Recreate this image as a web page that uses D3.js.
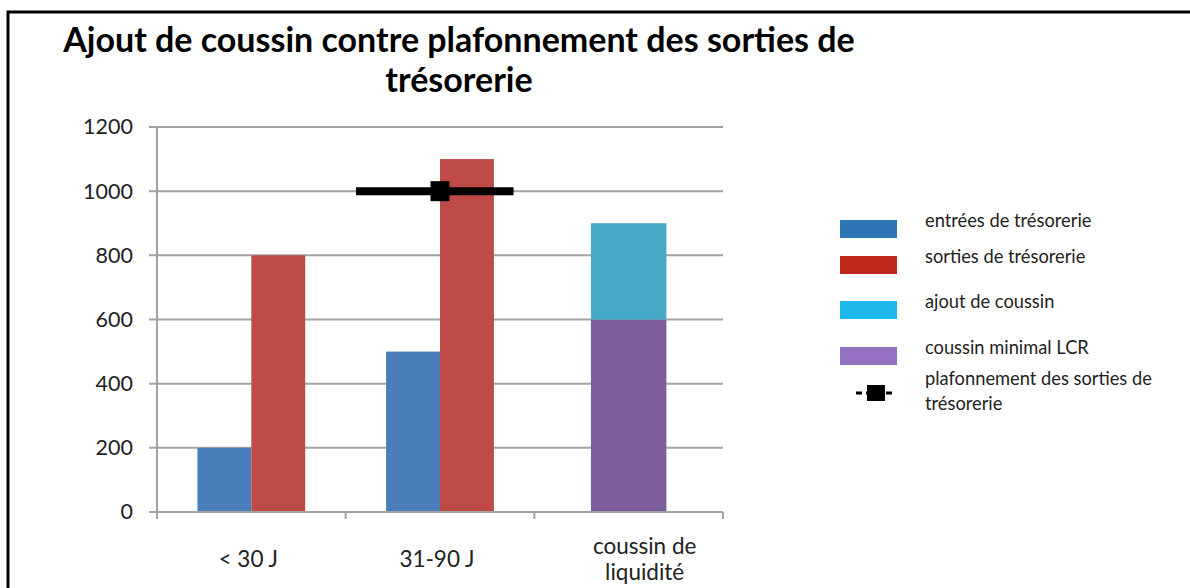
<!DOCTYPE html>
<html>
<head>
<meta charset="utf-8">
<script src="https://cdn.jsdelivr.net/npm/d3@7"></script>
<style>
  body { margin: 0; background: #fff; }
  svg { display: block; font-family: Lato, "Open Sans", sans-serif; }
</style>
</head>
<body>
<div id="chart"></div>
<script>
// chart values
const categories = ["< 30 J", "31-90 J", "coussin de liquidité"]
const entrees = [200, 500, null]
const sorties = [800, 1100, null]
const coussinMinimal = [null, null, 600]
const ajoutCoussin = [null, null, 300]
const plafondCategory = "31-90 J"
const plafondValue = 1000
const yTicks = [0, 200, 400, 600, 800, 1000, 1200]
const titleLines = ["Ajout de coussin contre plafonnement des sorties de", "trésorerie"]
const legendItems = [
  {label: ["entrées de trésorerie"], color: "#2e75b6"},
  {label: ["sorties de trésorerie"], color: "#c0291d"},
  {label: ["ajout de coussin"], color: "#1fb8ec"},
  {label: ["coussin minimal LCR"], color: "#9470c2"},
  {label: ["plafonnement des sorties de", "trésorerie"], marker: true}
]

const W = 1190, H = 588
const PLOT = {left: 157, right: 723, top: 127, bottom: 512}
const GRID = "#a3a3a3"

const svg = d3.select("#chart").append("svg")
  .attr("width", W)
  .attr("height", H)

// frame
svg.append("rect")
  .attr("x", 8).attr("y", 12)
  .attr("width", W + 20).attr("height", H + 20)
  .attr("fill", "none")
  .attr("stroke", "#000")
  .attr("stroke-width", 3)

// title
svg.append("g").selectAll("text")
  .data(titleLines)
  .enter().append("text")
    .attr("x", 459)
    .attr("y", (d, i) => 52 + i * 40)
    .attr("text-anchor", "middle")
    .attr("font-size", 34)
    .attr("font-weight", "bold")
    .attr("fill", "#000")
    .text(d => d)

const x = d3.scaleBand()
  .domain(categories)
  .range([PLOT.left, PLOT.right])

const xPair = d3.scaleBand()
  .domain(["entrees", "sorties"])
  .range([0, x.bandwidth()])
  .paddingOuter(0.75)

const stackW = x.bandwidth() * 0.4

const y = d3.scaleLinear()
  .domain([0, 1200])
  .range([PLOT.bottom, PLOT.top])

// gridlines
svg.append("g").selectAll("line")
  .data(yTicks)
  .enter().append("line")
    .attr("x1", PLOT.left - 8).attr("x2", PLOT.right)
    .attr("y1", d => y(d)).attr("y2", d => y(d))
    .attr("stroke", GRID)
    .attr("stroke-width", 2)

// y axis labels
const yAxis = svg.append("g")
  .attr("transform", "translate(" + PLOT.left + ",0)")
  .call(d3.axisLeft(y).tickValues(yTicks).tickSize(0).tickPadding(24).tickFormat(d => d))
yAxis.select(".domain").remove()
yAxis.selectAll("text")
  .attr("font-size", 21.5)
  .attr("font-family", "Lato, 'Open Sans', sans-serif")
  .attr("fill", "#222")

svg.append("line")
  .attr("x1", PLOT.left).attr("x2", PLOT.left)
  .attr("y1", PLOT.top).attr("y2", PLOT.bottom)
  .attr("stroke", GRID).attr("stroke-width", 2)

// x axis ticks
const xAxis = svg.append("g")
  .attr("transform", "translate(0," + PLOT.bottom + ")")
xAxis.selectAll("line.tick")
  .data(categories.concat([null]))
  .enter().append("line")
    .attr("class", "tick")
    .attr("x1", (d, i) => PLOT.left + i * x.step())
    .attr("x2", (d, i) => PLOT.left + i * x.step())
    .attr("y1", 0).attr("y2", 7)
    .attr("stroke", GRID).attr("stroke-width", 2)

// clustered bars
const pairs = []
categories.forEach((c, i) => {
  if (entrees[i] != null) pairs.push({cat: c, key: "entrees", value: entrees[i], color: "#4a7ebb"})
  if (sorties[i] != null) pairs.push({cat: c, key: "sorties", value: sorties[i], color: "#be4b48"})
})

svg.append("g").selectAll("rect")
  .data(pairs)
  .enter().append("rect")
    .attr("x", d => x(d.cat) + xPair(d.key))
    .attr("y", d => y(d.value))
    .attr("width", xPair.bandwidth())
    .attr("height", d => y(0) - y(d.value))
    .attr("fill", d => d.color)

// stacked bar
const stackRows = categories.map((c, i) => ({cat: c, minimal: coussinMinimal[i] || 0, ajout: ajoutCoussin[i] || 0}))
const stacked = d3.stack().keys(["minimal", "ajout"])(stackRows)
const stackColors = {minimal: "#7d5fa0", ajout: "#46a9c6"}

svg.append("g").selectAll("g")
  .data(stacked)
  .enter().append("g")
    .attr("fill", s => stackColors[s.key])
  .selectAll("rect")
  .data(s => s.filter(d => d[1] > d[0]))
  .enter().append("rect")
    .attr("x", d => x(d.data.cat) + (x.bandwidth() - stackW) / 2)
    .attr("y", d => y(d[1]))
    .attr("width", stackW)
    .attr("height", d => y(d[0]) - y(d[1]))

svg.append("line")
  .attr("x1", PLOT.left - 8).attr("x2", PLOT.right)
  .attr("y1", y(0)).attr("y2", y(0))
  .attr("stroke", GRID).attr("stroke-width", 2)

// x labels (the long one wraps on two lines, like the original)
svg.append("g").selectAll("text")
  .data(categories)
  .enter().append("text")
    .attr("text-anchor", "middle")
    .attr("font-size", 22.5)
    .attr("fill", "#222")
    .each(function (d) {
      const t = d3.select(this)
      const cx = x(d) + x.bandwidth() / 2
      if (d.length > 12) {
        const words = ["coussin de", "liquidité"]
        t.attr("y", 554)
        words.forEach((w, k) => t.append("tspan").attr("x", cx + 16).attr("dy", k ? 26 : 0).text(w))
      } else {
        t.attr("x", cx - 3).attr("y", 567).text(d)
      }
    })

// plafonnement line
const pc = x(plafondCategory) + x.bandwidth() / 2
svg.append("line")
  .attr("x1", pc - x.bandwidth() * 0.445)
  .attr("x2", pc + x.bandwidth() * 0.39)
  .attr("y1", y(plafondValue)).attr("y2", y(plafondValue))
  .attr("stroke", "#000").attr("stroke-width", 8)
svg.append("rect")
  .attr("x", pc - 9.5).attr("y", y(plafondValue) - 10)
  .attr("width", 19).attr("height", 20)
  .attr("fill", "#000")

// legend
const legendY = [229, 265, 310, 356, 395]
const legend = svg.append("g").selectAll("g")
  .data(legendItems)
  .enter().append("g")
    .attr("transform", (d, i) => "translate(840," + legendY[i] + ")")

legend.filter(d => !d.marker).append("rect")
  .attr("x", 0).attr("y", -9)
  .attr("width", 57).attr("height", 18)
  .attr("fill", d => d.color)

const mk = legend.filter(d => d.marker)
mk.append("line")
  .attr("x1", 16).attr("x2", 55).attr("y1", -2).attr("y2", -2)
  .attr("stroke", "#000").attr("stroke-width", 3)
  .attr("stroke-dasharray", "6,4")
mk.append("rect")
  .attr("x", 27).attr("y", -10)
  .attr("width", 18).attr("height", 16)
  .attr("fill", "#000")

legend.append("text")
  .attr("x", 85)
  .attr("font-size", 18.3)
  .attr("fill", "#222")
  .each(function (d) {
    const t = d3.select(this)
    const start = d.label.length > 1 ? -10 : -2
    d.label.forEach((l, k) => t.append("tspan").attr("x", 85).attr("y", start + k * 25).text(l))
  })
</script>
</body>
</html>
